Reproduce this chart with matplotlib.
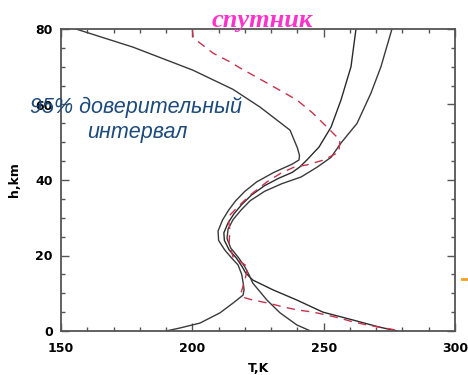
import matplotlib
matplotlib.use("Agg")
import matplotlib.pyplot as plt
from matplotlib.lines import Line2D
from matplotlib.ticker import MultipleLocator

# ---- data ----
h_L = [80, 75.2, 69.1, 64, 59.3, 53.2, 48.5, 46.5, 45.3, 44.2, 42, 39.5, 37, 34.5, 32, 29.4, 26.5, 24, 21.5, 19.3, 17.5, 15, 12.5, 10.9, 9.5, 7.4, 4.8, 2.1, 0.8, 0]
T_L = [155.7, 177.4, 200.2, 215.5, 225.8, 237.2, 240.0, 240.8, 240.6, 238.0, 231.0, 224.5, 220.0, 216.5, 213.8, 211.5, 209.8, 210.0, 212.3, 215.0, 217.4, 218.8, 219.4, 219.7, 219.3, 215.5, 210.5, 202.9, 195.3, 190.0]

h_M = [80, 70, 61.2, 54, 48.7, 45.3, 43.5, 42, 40.5, 38.5, 36, 33.5, 31, 28.5, 26, 24, 21.5, 19.3, 17, 15.4, 13.5, 10.9, 8.2, 5, 2.9, 1, 0]
T_M = [262.3, 260.4, 256.6, 252.8, 248.2, 243.6, 241.0, 238.0, 233.0, 227.5, 222.5, 218.8, 215.8, 213.5, 212.0, 212.2, 214.0, 216.8, 219.0, 220.3, 223.0, 230.7, 239.8, 249.7, 261.2, 271.4, 278.0]

h_R = [80, 70, 63, 55, 49.8, 46, 43.4, 40.8, 39, 37, 34.5, 32, 29.5, 27, 24.5, 22, 19.5, 17, 15, 12.7, 8.2, 4.8, 1.6, 0]
T_R = [276, 271.8, 268, 262.7, 256.6, 252.8, 247.5, 241.4, 234.0, 227.5, 222.0, 218.5, 215.5, 213.6, 213.2, 214.6, 217.5, 220.0, 221.5, 223.0, 228.4, 233.4, 239.8, 245.0]

h_sat = [80, 78, 76.5, 73.6, 71.3, 69.7, 65.7, 61.2, 57.7, 54, 50.6, 47.4, 45.3, 44, 43.4, 41.8, 39.5, 36, 33, 30.2, 26.8, 23.3, 19.6, 17, 13.5, 10, 8.8, 8.2, 7.4, 6.4, 5.6, 5, 4.2, 3.4, 2.4, 1.6, 1, 0.2]
T_sat = [200, 200.3, 202.5, 207.9, 214.3, 218.1, 228.4, 239.8, 245.9, 251.3, 256.2, 255.8, 250, 243.6, 238.7, 233.7, 228.4, 222, 217.5, 213.6, 214.3, 214, 215.5, 221.2, 220, 218.5, 220, 223, 228.8, 234.5, 239.8, 246, 251.3, 256.2, 261.2, 266.5, 271.4, 278]

x_ticks = [150, 200, 250, 300]
y_ticks = [0, 20, 40, 60, 80]

W, H = 468, 375
fig = plt.figure(figsize=(W / 100, H / 100), dpi=100)
ax = fig.add_axes([61 / W, 1 - 331 / H, (455 - 61) / W, (331 - 29) / H])

ax.plot(T_L, h_L, color="#3a3a3a", lw=1.0)
ax.plot(T_M, h_M, color="#2a2a2a", lw=1.0)
ax.plot(T_R, h_R, color="#3a3a3a", lw=1.0)
ax.plot(T_sat, h_sat, color="#c8324a", lw=1.0, dashes=(6, 4.5))

ax.set_xlim(150, 300)
ax.set_ylim(0, 80)
ax.set_xticks(x_ticks)
ax.set_yticks(y_ticks)
ax.xaxis.set_minor_locator(MultipleLocator(10))
ax.yaxis.set_minor_locator(MultipleLocator(5))
ax.tick_params(which="both", direction="in", top=True, right=True, color="#555555", width=1.0)
ax.tick_params(which="major", length=6)
ax.tick_params(which="minor", length=3)
ax.tick_params(axis="x", pad=8)
ax.tick_params(axis="y", pad=6)
for lab in ax.get_xticklabels() + ax.get_yticklabels():
    lab.set_fontsize(9)
    lab.set_fontweight("bold")
for s in ax.spines.values():
    s.set_color("#555555")
    s.set_linewidth(1.3)

ax.set_xlabel("T,K", fontsize=9, fontweight="bold", labelpad=5)
ax.set_ylabel("h,km", fontsize=9, fontweight="bold", labelpad=10)

fig.text(262 / W, 1 - 27 / H, "спутник", color="#ff33cc", fontsize=19,
         fontweight="bold", fontstyle="italic", family="Liberation Serif",
         ha="center", va="baseline")
fig.text(136 / W, 1 - 113 / H, "95% доверительный", color="#1d4a7c", fontsize=15.5,
         fontstyle="italic", family="Liberation Sans", ha="center", va="baseline")
fig.text(137.5 / W, 1 - 138 / H, "интервал", color="#1d4a7c", fontsize=15.5,
         fontstyle="italic", family="Liberation Sans", ha="center", va="baseline")

fig.add_artist(Line2D([462 / W, 468 / W], [1 - 279 / H, 1 - 279 / H],
                      color="#f5a020", lw=2, transform=fig.transFigure))

fig.savefig("out.png", dpi=100)
